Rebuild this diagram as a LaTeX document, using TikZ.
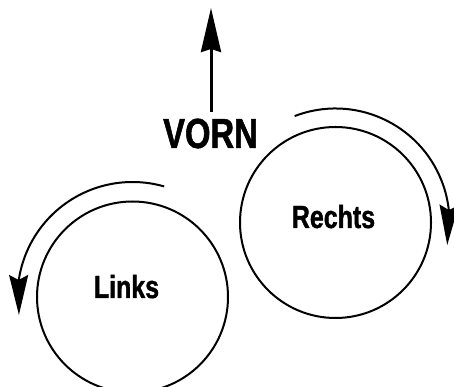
\documentclass[tikz,border=0pt]{standalone}
\usepackage{fontspec}
\setmainfont{Liberation Sans}[FakeStretch=0.78,BoldFeatures={FakeBold=1.2}]
\usetikzlibrary{arrows.meta,bending,calc}
\begin{document}
\begin{tikzpicture}[x=1pt,y=1pt,
  wheel/.style={circle,draw,line width=2pt,minimum size=191pt,inner sep=0pt},
  label/.style={inner sep=0pt,anchor=base,font=\fontsize{32}{32}\selectfont\bfseries},
  turn/.style={line width=2pt,-{Stealth[length=40pt,width=19pt,inset=5pt]}}]
  \useasboundingbox (0,0) rectangle (454,387);

  % forward direction
  \coordinate (shaftfoot) at (211,275);
  \coordinate (shafttip) at (211,379);
  \draw[line width=3pt,-{Stealth[length=44pt,width=20pt,inset=3pt]}] (shaftfoot) -- (shafttip);
  \node[label,font=\fontsize{42}{42}\selectfont\bfseries] (vorn) at (210.5,239) {VORN};

  % right wheel, turning clockwise
  \node[wheel] (rechts) at (335.5,164.5) {};
  \node[label] (rechtstext) at (333.5,159) {Rechts};
  \coordinate (rstart) at ($(rechts.center)+(111:114)$);
  \draw[turn] (rstart) arc[start angle=111,end angle=-11.4,radius=114];

  % left wheel, turning counter-clockwise
  \node[wheel] (links) at (132.5,90) {};
  \node[label] (linkstext) at (126.5,89) {Links};
  \coordinate (lstart) at ($(links.center)+(74:115)$);
  \draw[turn] (lstart) arc[start angle=74,end angle=189,radius=115];
\end{tikzpicture}
\end{document}
